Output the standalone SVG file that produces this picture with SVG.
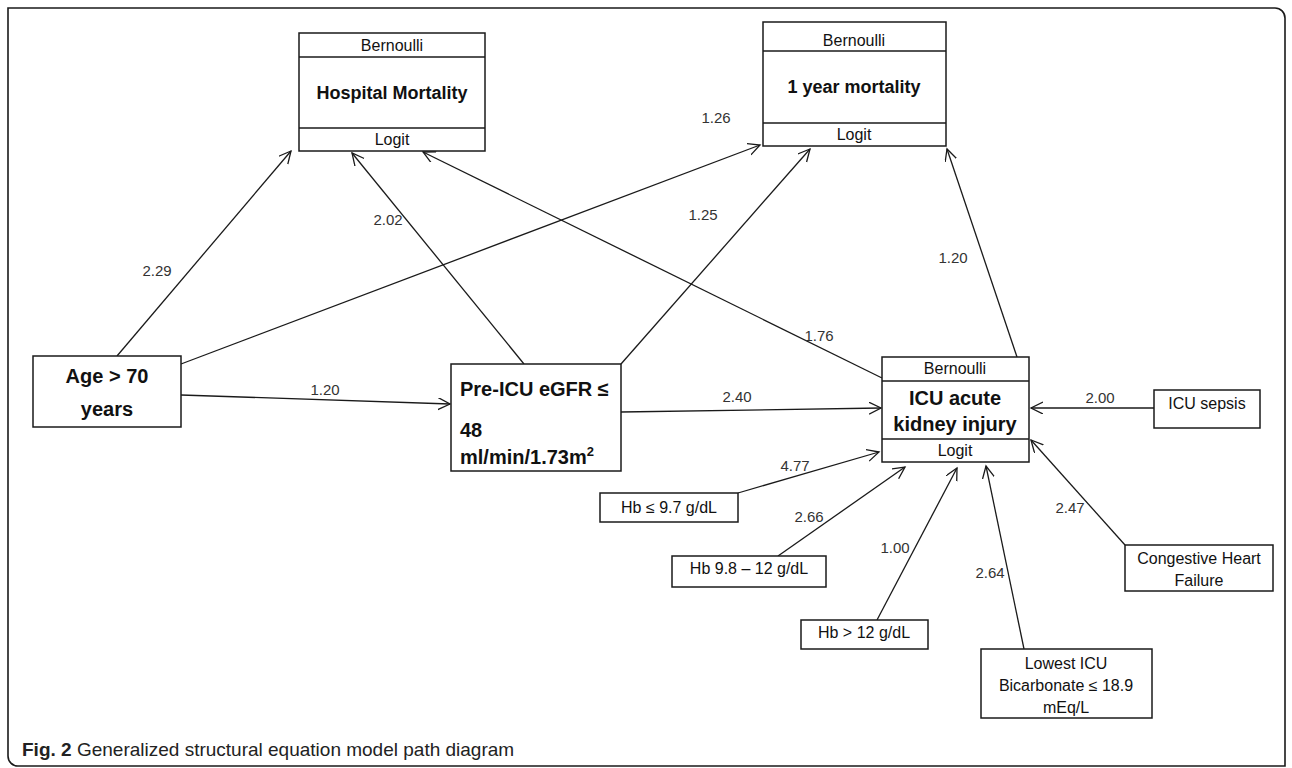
<svg xmlns="http://www.w3.org/2000/svg" width="1292" height="768" viewBox="0 0 1292 768">
<style>
.box{fill:#fff;stroke:#1a1a1a;stroke-width:1.5}
.dv{stroke:#1a1a1a;stroke-width:1.5}
.t{font-family:"Liberation Sans",Arial,sans-serif;fill:#111;text-anchor:middle}
.r16{font-size:16px}
.b18{font-size:18px;font-weight:bold}
.b20{font-size:20px;font-weight:bold}
.lab{font-family:"Liberation Sans",Arial,sans-serif;font-size:15px;fill:#333;text-anchor:middle}
.c{fill:none;stroke:#1a1a1a;stroke-width:1.3;marker-end:url(#ah)}
</style>
<defs>
<marker id="ah" markerUnits="userSpaceOnUse" markerWidth="14" markerHeight="14" refX="12" refY="6" orient="auto">
<path d="M0,0 L12,6 L0,12" fill="none" stroke="#1a1a1a" stroke-width="1.3"/>
</marker>
</defs>
<rect width="1292" height="768" fill="#fff"/>
<path d="M8,8 H1275 A10,10 0 0 1 1285,18 V766 H18 A10,10 0 0 1 8,756 Z" fill="none" stroke="#1a1a1a" stroke-width="1.6"/>

<g id="connectors">
<line class="c" x1="117" y1="356" x2="291" y2="151"/>
<line class="c" x1="181" y1="364" x2="760" y2="145"/>
<line class="c" x1="181" y1="395" x2="450" y2="404"/>
<line class="c" x1="524" y1="364" x2="352" y2="153"/>
<line class="c" x1="621" y1="364" x2="810" y2="149"/>
<line class="c" x1="621" y1="412" x2="881" y2="408"/>
<line class="c" x1="882" y1="378" x2="423" y2="152"/>
<line class="c" x1="1017" y1="357" x2="947" y2="149"/>
<line class="c" x1="1154" y1="408" x2="1031" y2="408"/>
<line class="c" x1="738" y1="493" x2="879" y2="452"/>
<line class="c" x1="778" y1="556" x2="905" y2="467"/>
<line class="c" x1="877" y1="620" x2="957" y2="468"/>
<line class="c" x1="1024" y1="649" x2="986" y2="466"/>
<line class="c" x1="1125" y1="545" x2="1031" y2="440"/>
<text class="lab" x="157" y="276">2.29</text>
<text class="lab" x="388" y="225">2.02</text>
<text class="lab" x="716" y="123">1.26</text>
<text class="lab" x="703" y="220">1.25</text>
<text class="lab" x="819" y="341">1.76</text>
<text class="lab" x="953" y="263">1.20</text>
<text class="lab" x="325" y="395">1.20</text>
<text class="lab" x="737" y="402">2.40</text>
<text class="lab" x="1100" y="403">2.00</text>
<text class="lab" x="795" y="471">4.77</text>
<text class="lab" x="809" y="522">2.66</text>
<text class="lab" x="895" y="553">1.00</text>
<text class="lab" x="990" y="578">2.64</text>
<text class="lab" x="1070" y="513">2.47</text>
</g>

<g id="hospital-mortality">
<rect class="box" x="299" y="33" width="186" height="118"/>
<line class="dv" x1="299" y1="57" x2="485" y2="57"/>
<line class="dv" x1="299" y1="128" x2="485" y2="128"/>
<text class="t r16" x="392" y="51">Bernoulli</text>
<text class="t b18" x="392" y="99">Hospital Mortality</text>
<text class="t r16" x="392" y="145">Logit</text>
</g>

<g id="one-year-mortality">
<rect class="box" x="763" y="22" width="183" height="124"/>
<line class="dv" x1="763" y1="51" x2="946" y2="51"/>
<line class="dv" x1="763" y1="123" x2="946" y2="123"/>
<text class="t r16" x="854" y="46">Bernoulli</text>
<text class="t b18" x="854" y="93">1 year mortality</text>
<text class="t r16" x="854" y="140">Logit</text>
</g>

<g id="age">
<rect class="box" x="33" y="356" width="148" height="71"/>
<text class="t b20" x="107" y="383">Age &gt; 70</text>
<text class="t b20" x="107" y="416">years</text>
</g>

<g id="pre-icu-egfr">
<rect class="box" x="451" y="364" width="170" height="107"/>
<text class="t b20" x="460" y="396" style="text-anchor:start">Pre-ICU eGFR ≤</text>
<text class="t b20" x="460" y="437" style="text-anchor:start">48</text>
<text class="t b20" x="460" y="464" style="text-anchor:start">ml/min/1.73m<tspan font-size="13" dy="-8">2</tspan></text>
</g>

<g id="icu-aki">
<rect class="box" x="882" y="357" width="147" height="105"/>
<line class="dv" x1="882" y1="381" x2="1029" y2="381"/>
<line class="dv" x1="882" y1="439" x2="1029" y2="439"/>
<text class="t r16" x="955" y="374">Bernoulli</text>
<text class="t b20" x="955" y="405">ICU acute</text>
<text class="t b20" x="955" y="431">kidney injury</text>
<text class="t r16" x="955" y="456">Logit</text>
</g>

<g id="icu-sepsis">
<rect class="box" x="1154" y="390" width="106" height="38"/>
<text class="t r16" x="1207" y="409">ICU sepsis</text>
</g>

<g id="hb-low">
<rect class="box" x="600" y="493" width="138" height="29"/>
<text class="t r16" x="669" y="513">Hb ≤ 9.7 g/dL</text>
</g>

<g id="hb-mid">
<rect class="box" x="672" y="556" width="154" height="31"/>
<text class="t r16" x="749" y="574">Hb 9.8 – 12 g/dL</text>
</g>

<g id="hb-high">
<rect class="box" x="801" y="620" width="127" height="29"/>
<text class="t r16" x="864" y="638">Hb &gt; 12 g/dL</text>
</g>

<g id="bicarbonate">
<rect class="box" x="981" y="649" width="171" height="69"/>
<text class="t r16" x="1066" y="669">Lowest ICU</text>
<text class="t r16" x="1066" y="691">Bicarbonate ≤ 18.9</text>
<text class="t r16" x="1066" y="713">mEq/L</text>
</g>

<g id="chf">
<rect class="box" x="1125" y="545" width="148" height="46"/>
<text class="t r16" x="1199" y="564">Congestive Heart</text>
<text class="t r16" x="1199" y="586">Failure</text>
</g>

<text x="22" y="756" style="font-family:'Liberation Sans',Arial,sans-serif;font-size:19px;fill:#222"><tspan font-weight="bold">Fig. 2</tspan> Generalized structural equation model path diagram</text>
</svg>
